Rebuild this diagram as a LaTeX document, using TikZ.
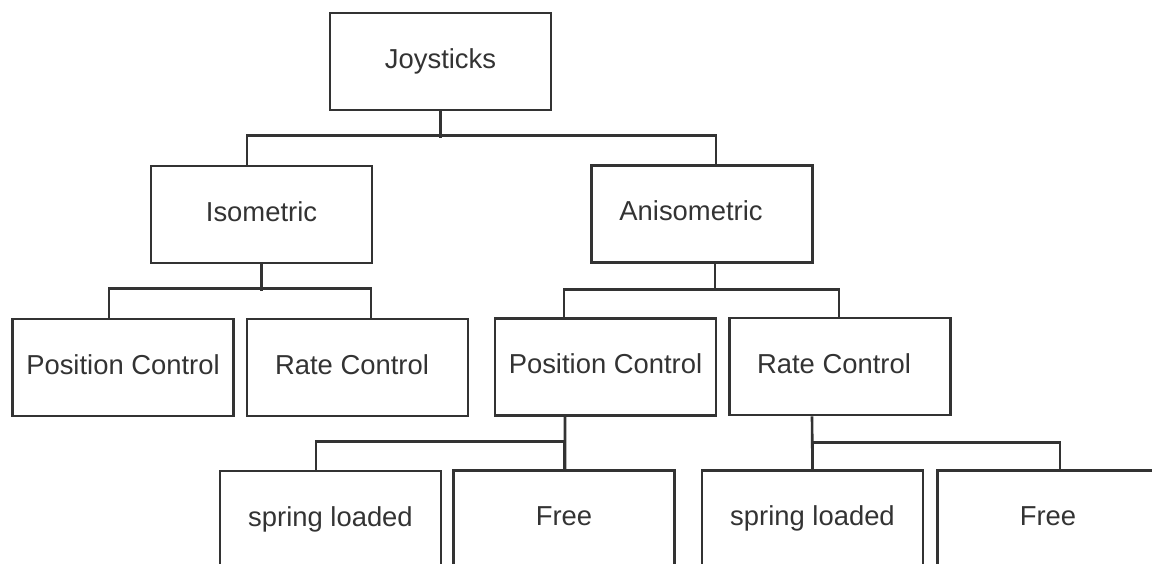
\documentclass[tikz,border=0pt]{standalone}
\usepackage{fontspec}
\setmainfont{Liberation Sans}
\definecolor{ink}{HTML}{333333}
\tikzset{
  box/.style={draw=ink, line width=1.5pt, text=ink, minimum width=4.42cm, minimum height=1.94cm,
    inner sep=0pt, text height=11.3pt, text depth=3.4pt, font=\fontsize{15.6}{18}\selectfont},
  link/.style={draw=ink, line width=1.5pt}
}
\begin{document}
\begin{tikzpicture}[x=0.02cm,y=-0.02cm]
\useasboundingbox (0,0) rectangle (1152,564);
\clip (0,0) rectangle (1152,564);
% top
\node[box] (joy) at (440.5,61.5) {Joysticks};
\node[box] (iso) at (261.5,214.5) {Isometric};
\node[box] (aniso) at (702,214) {Anisometric\hspace*{0.44cm}};
% middle row
\node[box] (posL) at (123,367.5) {Position Control};
\node[box] (rateL) at (357.5,367.5) {Rate Control\hspace*{0.22cm}};
\node[box] (posR) at (605.5,367) {Position Control};
\node[box] (rateR) at (840,366.5) {Rate Control\hspace*{0.24cm}};
% bottom row
\node[box] (springL) at (330.5,519.5) {spring loaded};
\node[box] (freeL) at (564,519) {Free};
\node[box] (springR) at (812.5,519) {spring loaded};
\node[box] (freeR) at (1048,519) {Free};
% connectors
\draw[link] (joy.south) -- ++(0,27);
\draw[link] ([xshift=-0.29cm]iso.north) -- ++(0,-29) -| ([xshift=0.28cm]aniso.north);
\draw[link] (iso.south) -- ++(0,27);
\draw[link] ([xshift=-0.28cm]posL.north) -- ++(0,-29) -| ([xshift=0.27cm]rateL.north);
\draw[link] ([xshift=0.26cm]aniso.south) -- ++(0,27);
\draw[link] ([xshift=-0.83cm]posR.north) -- ++(0,-28) -| ([xshift=-0.02cm]rateR.north);
\draw[link] ([xshift=-0.81cm]posR.south) -- ([xshift=0.02cm]freeL.north);
\draw[link] ([xshift=-0.29cm]springL.north) -- ++(0,-28) -| (freeL.north);
\draw[link] ([xshift=-0.56cm]rateR.south) -- (springR.north);
\draw[link] (springR.north) -- ++(0,-27) -| ([xshift=0.24cm]freeR.north);
\end{tikzpicture}
\end{document}
